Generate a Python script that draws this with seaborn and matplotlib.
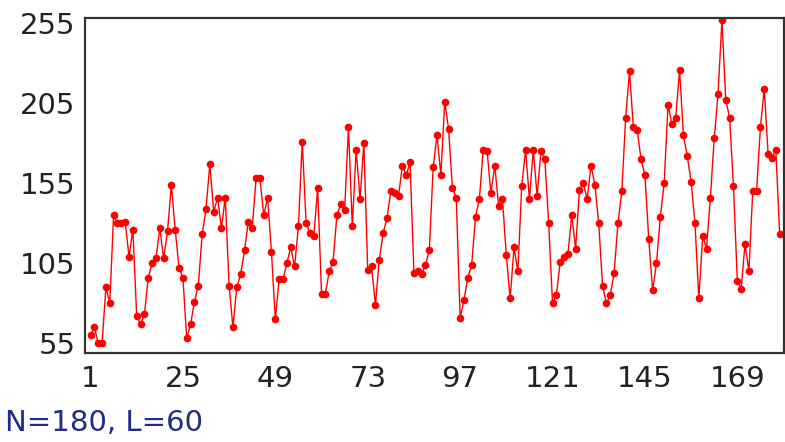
import matplotlib
matplotlib.use("Agg")
import matplotlib.pyplot as plt
import seaborn as sns
import pandas as pd

# ---- data ----
index = list(range(1, 181))
values = [
    60, 65, 55, 55, 90, 80, 135, 130, 130, 131,
    109, 126, 72, 67, 73, 96, 105, 108, 127, 108,
    125, 154, 126, 102, 96, 58, 67, 81, 91, 123,
    139, 167, 137, 146, 127, 146, 91, 65, 90, 98,
    113, 131, 127, 158, 158, 135, 146, 112, 70, 95,
    95, 105, 115, 103, 128, 181, 130, 124, 122, 152,
    86, 86, 100, 106, 135, 142, 138, 190, 128, 176,
    145, 180, 101, 103, 79, 107, 124, 133, 150, 149,
    147, 166, 160, 168, 99, 100, 98, 104, 113, 165,
    185, 160, 206, 189, 152, 146, 71, 82, 96, 104,
    134, 145, 176, 175, 149, 166, 141, 145, 110, 83,
    115, 100, 153, 176, 145, 176, 147, 175, 170, 130,
    80, 85, 106, 109, 111, 135, 114, 151, 155, 145,
    166, 154, 130, 91, 80, 85, 99, 130, 150, 196,
    225, 190, 188, 170, 160, 120, 88, 105, 134, 155,
    204, 192, 196, 226, 185, 172, 156, 130, 83, 122,
    114, 146, 183, 211, 257, 207, 196, 153, 94, 89,
    117, 100, 150, 150, 190, 214, 173, 171, 176, 123,
]
x_ticks = [1, 25, 49, 73, 97, 121, 145, 169]
y_ticks = [55, 105, 155, 205, 255]
caption = "N=180, L=60"

df = pd.DataFrame({"t": index, "v": values})

sns.set_theme(style="white")
plt.rcParams["font.family"] = ["DejaVu Sans"]

fig = plt.figure(figsize=(7.85, 4.42), dpi=100)
ax = fig.add_axes([85 / 785, 1 - 352.7 / 442, (784.3 - 85) / 785, (352.7 - 18.3) / 442])

sns.lineplot(data=df, x="t", y="v", ax=ax, color="#ff0000", linewidth=1.0,
             marker="o", markersize=5.5, markeredgewidth=0, sort=False)

ax.set_xlim(-0.43, 181.2)
ax.set_ylim(49.1, 258.1)
ax.set_xticks(x_ticks)
ax.set_xticklabels([str(v) for v in x_ticks])
ax.set_yticks(y_ticks)
ax.set_yticklabels([str(v) for v in y_ticks])
ax.set_xlabel("")
ax.set_ylabel("")

for s in ax.spines.values():
    s.set_visible(True)
    s.set_color("#333333")
    s.set_linewidth(1.6)

ax.tick_params(axis="both", direction="in", length=4, width=1.2, color="#333333",
               labelsize=21, labelcolor="#222222")
ax.tick_params(axis="x", pad=9)
ax.tick_params(axis="y", pad=7)
ax.grid(False)

fig.text(5 / 785, 1 - 422.5 / 442, caption, color="#1f2d86", fontsize=21,
         ha="left", va="center")

fig.savefig("out.png", dpi=100)
